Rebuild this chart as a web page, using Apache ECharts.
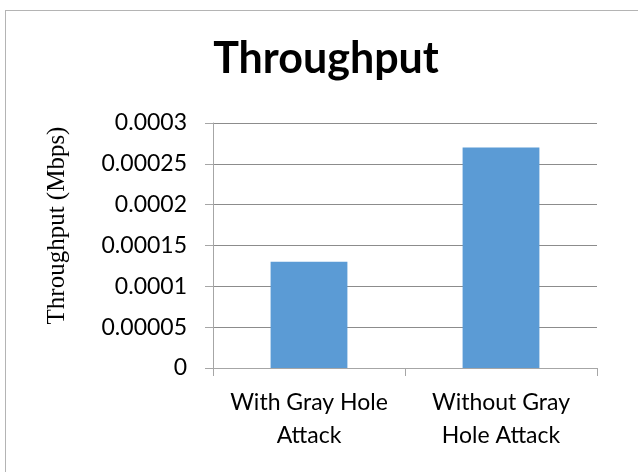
<!DOCTYPE html>
<html>
<head>
<meta charset="utf-8">
<script src="https://cdn.jsdelivr.net/npm/echarts@6/dist/echarts.min.js"></script>
<style>
  html, body { margin: 0; padding: 0; background: #ffffff; overflow: hidden; }
  #frame { position: absolute; left: 5px; top: 10px; width: 660px; height: 480px; border: 1px solid #b4b4b4; box-sizing: border-box; }
  #chart { position: absolute; left: 0; top: 0; width: 638px; height: 472px; }
</style>
</head>
<body>
<div id="frame"></div>
<div id="chart"></div>
<script>
// Throughput comparison data
const categories = ['With Gray Hole\nAttack', 'Without Gray\nHole Attack'];
const throughput = [0.00013, 0.00027];
const yTicks = [0, 0.00005, 0.0001, 0.00015, 0.0002, 0.00025, 0.0003];

const chart = echarts.init(document.getElementById('chart'), null, { renderer: 'canvas' });
const sansFont = 'Lato, "Open Sans", sans-serif';

chart.setOption({
  animation: false,
  backgroundColor: 'transparent',
  title: {
    text: 'Throughput',
    left: 321,
    top: 33,
    textAlign: 'center',
    textStyle: { fontFamily: sansFont, fontWeight: 'bold', fontSize: 43, color: '#000000' }
  },
  grid: { left: 213, right: 41, top: 123, bottom: 104, containLabel: false },
  xAxis: {
    type: 'category',
    data: categories,
    axisLine: { lineStyle: { color: '#a6a6a6', width: 1 } },
    axisTick: { show: true, length: 8, lineStyle: { color: '#a6a6a6' } },
    axisLabel: {
      interval: 0,
      hideOverlap: false,
      fontFamily: sansFont, fontSize: 23, color: '#000000', lineHeight: 33, margin: 18
    }
  },
  yAxis: {
    type: 'value',
    min: 0,
    max: yTicks[yTicks.length - 1],
    interval: yTicks[1] - yTicks[0],
    name: 'Throughput (Mbps)',
    nameLocation: 'middle',
    nameGap: 143,
    nameTextStyle: {
      fontFamily: '"Liberation Serif", "DejaVu Serif", serif',
      fontSize: 25,
      color: '#000000',
      padding: [0, 0, 0, 40]
    },
    axisLine: { show: true, lineStyle: { color: '#a6a6a6', width: 1 } },
    axisTick: { show: true, length: 8, lineStyle: { color: '#a6a6a6' } },
    axisLabel: {
      fontFamily: sansFont, fontSize: 23, color: '#000000', margin: 26,
      formatter: v => String(yTicks.find(t => Math.abs(t - v) < 1e-12) ?? v)
    },
    splitLine: { lineStyle: { color: '#8c8c8c', width: 1 } }
  },
  series: [{
    type: 'bar',
    data: throughput,
    barWidth: '40%',
    itemStyle: { color: '#5b9bd5' }
  }]
});
</script>
</body>
</html>
